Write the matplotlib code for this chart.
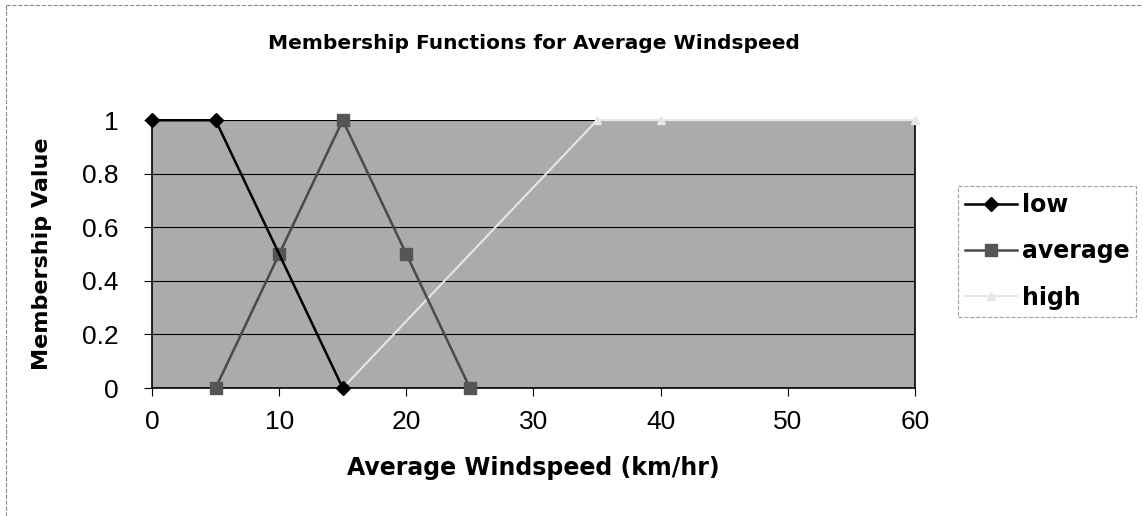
import matplotlib
matplotlib.use("Agg")
import matplotlib.pyplot as plt

plt.rcParams['font.family'] = ['Liberation Sans', 'DejaVu Sans']

low_x = [0, 5, 15]
low_y = [1, 1, 0]
avg_x = [5, 10, 15, 20, 25]
avg_y = [0, 0.5, 1, 0.5, 0]
high_x = [15, 35, 40, 60]
high_y = [0, 1, 1, 1]

xticks = [0, 10, 20, 30, 40, 50, 60]
yticks = [0, 0.2, 0.4, 0.6, 0.8, 1]
ytick_labels = ['0', '0.2', '0.4', '0.6', '0.8', '1']

fig = plt.figure(figsize=(11.43, 5.16), dpi=100)
ax = fig.add_axes([0.133, 0.248, 0.6675, 0.519])
ax.set_facecolor('#ababab')

ax.plot(low_x, low_y, color='black', marker='D', markersize=7, lw=1.8, label='low', clip_on=False, zorder=5)
ax.plot(avg_x, avg_y, color='#4a4a4a', marker='s', markersize=8, lw=1.8,
        markerfacecolor='#555555', markeredgecolor='#555555', label='average', clip_on=False, zorder=4)
ax.plot(high_x, high_y, color='#e6e6e6', marker='^', markersize=6, lw=1.5,
        markerfacecolor='#e6e6e6', markeredgecolor='#e6e6e6', label='high', clip_on=False, zorder=3)

ax.set_xlim(0, 60)
ax.set_ylim(0, 1)
ax.set_xticks(xticks)
ax.set_yticks(yticks)
ax.set_yticklabels(ytick_labels)
ax.tick_params(axis='both', labelsize=19, direction='out', length=6, width=0.8, colors='black')
ax.tick_params(axis='x', pad=10)
ax.tick_params(axis='y', pad=18)
ax.yaxis.grid(True, color='black', lw=0.8)
ax.set_axisbelow(True)
for s in ax.spines.values():
    s.set_color('black')
    s.set_linewidth(1.2)
ax.spines['top'].set_visible(False)

bold = dict(family='DejaVu Sans', weight='bold')
ax.set_title('Membership Functions for Average Windspeed', fontsize=14.5, pad=51, **bold)
ax.set_xlabel('Average Windspeed (km/hr)', fontsize=17, labelpad=16, **bold)
ax.set_ylabel('Membership Value', fontsize=16, labelpad=22, **bold)

leg = fig.legend(loc='upper left', bbox_to_anchor=(0.838, 0.64),
                 prop={'family': 'DejaVu Sans', 'weight': 'bold', 'size': 17}, frameon=True, fancybox=False,
                 handlelength=2.2, handletextpad=0.2, borderpad=0.3, labelspacing=0.95, borderaxespad=0)
leg.get_frame().set_edgecolor('#888888')
leg.get_frame().set_linestyle('--')
leg.get_frame().set_linewidth(0.8)

# outer chart border (left and top only visible in the scan)
fig.add_artist(plt.Line2D([0.005, 0.005], [0.0, 0.99], transform=fig.transFigure, color='#888888', lw=0.8, ls='--'))
fig.add_artist(plt.Line2D([0.005, 1.0], [0.99, 0.99], transform=fig.transFigure, color='#888888', lw=0.8, ls='--'))

fig.savefig('out.png', dpi=100)
